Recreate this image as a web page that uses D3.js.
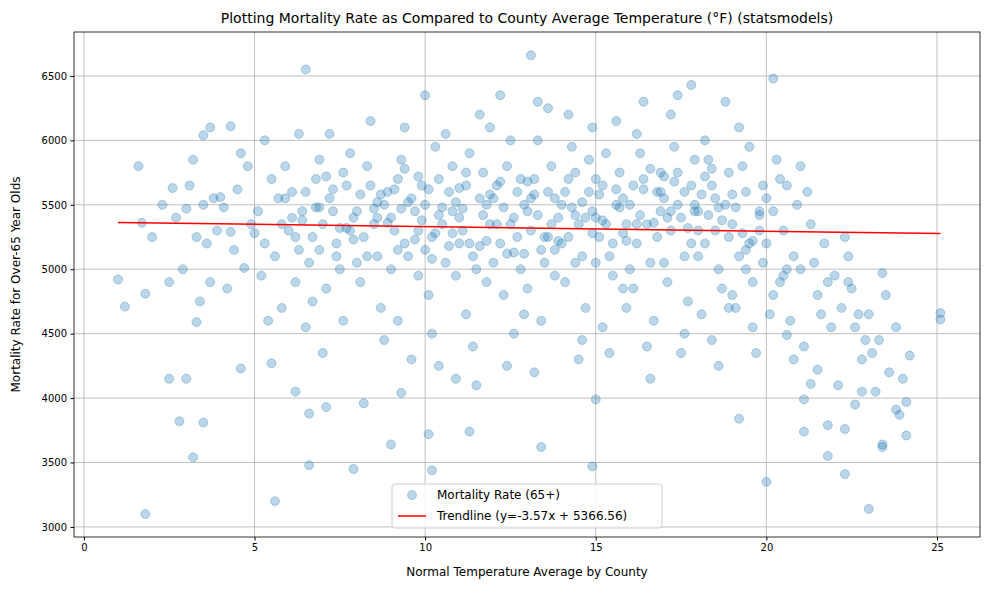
<!DOCTYPE html>
<html><head><meta charset="utf-8">
<script src="https://cdn.jsdelivr.net/npm/d3@7"></script>
<style>body{margin:0;background:#fff;font-family:"DejaVu Sans",sans-serif}</style>
</head><body><svg id="c" width="989" height="590"></svg>
<script>
const temps = [1.0,1.2,1.8,1.8,1.6,1.7,2.5,2.5,2.8,3.0,3.2,3.5,3.3,3.5,3.7,4.3,4.6,5.6,6.5,6.6,7.9,9.0,10.0,10.1,10.2,11.3,13.1,13.4,14.9,15.0,17.8,20.2,20.0,22.3,23.0,23.4,23.4,24.1,25.1,25.1,21.8,21.8,22.3,23.4,24.1,24.2,23.8,19.2,20.6,21.3,21.5,21.1,21.1,
2.0,2.3,2.7,2.9,3.1,3.3,3.5,3.7,3.9,3.2,3.8,3.4,2.6,3.6,3.0,
4.1,4.3,4.5,4.7,4.8,4.2,4.9,4.4,4.6,4.0,
5.1,5.3,5.5,5.2,5.8,5.6,5.9,5.4,5.7,5.0,5.3,5.8,5.5,
6.1,6.3,6.5,6.7,6.9,6.2,6.4,6.6,6.8,6.0,6.3,6.7,6.5,6.9,6.1,6.6,6.2,
7.0,7.2,7.4,7.6,7.8,7.1,7.3,7.5,7.7,7.9,7.2,7.6,7.0,7.8,7.4,7.1,
8.0,8.2,8.4,8.6,8.8,8.1,8.3,8.5,8.7,8.9,8.4,8.2,8.6,8.0,8.8,
9.0,9.2,9.4,9.6,9.8,9.1,9.3,9.5,9.7,9.9,9.2,9.6,9.4,9.0,9.8,9.5,9.3,
10.0,10.2,10.4,10.6,10.8,10.1,10.3,10.5,10.7,10.9,10.2,10.6,10.4,10.0,10.8,10.5,10.9,
11.0,11.2,11.4,11.6,11.8,11.1,11.3,11.5,11.7,11.9,11.2,11.6,11.4,11.8,11.0,11.5,11.9,
12.0,12.2,12.4,12.6,12.8,12.1,12.3,12.5,12.7,12.9,12.2,12.6,12.4,12.8,12.0,12.5,12.9,
13.0,13.2,13.4,13.6,13.8,13.1,13.3,13.5,13.7,13.9,13.2,13.6,13.4,13.8,13.0,13.5,13.3,
14.0,14.2,14.4,14.6,14.8,14.1,14.3,14.5,14.7,14.9,14.2,14.6,14.4,14.8,14.0,14.5,14.9,
15.0,15.2,15.4,15.6,15.8,15.1,15.3,15.5,15.7,15.9,15.2,15.6,15.4,15.8,15.0,15.5,15.9,
16.0,16.2,16.4,16.6,16.8,16.1,16.3,16.5,16.7,16.9,16.2,16.6,16.4,16.8,16.0,16.5,16.9,
17.0,17.2,17.4,17.6,17.8,17.1,17.3,17.5,17.7,17.9,17.2,17.6,17.4,17.8,17.0,17.5,17.9,
18.0,18.2,18.4,18.6,18.8,18.1,18.3,18.5,18.7,18.9,18.2,18.6,18.4,18.8,18.0,18.5,18.9,
19.0,19.2,19.4,19.6,19.8,19.1,19.3,19.5,19.7,19.9,19.2,19.6,19.4,19.8,19.0,19.5,19.9,
20.0,20.2,20.4,20.6,20.8,20.1,20.3,20.5,20.7,20.9,20.2,20.6,20.4,20.8,20.0,20.5,
21.0,21.3,21.5,21.7,21.9,21.2,21.6,21.4,21.8,21.1,21.0,
22.0,22.2,22.4,22.6,22.8,22.3,22.5,22.7,22.9,22.1,22.6,22.8,22.4,
23.0,23.3,23.6,23.1,23.5,23.8,24.0,23.2,23.9];
const rates = [4920,4710,3100,4810,5800,5360,4150,4900,3820,4150,3540,3810,4590,6040,6100,6110,4230,3200,6550,3480,3450,3640,6350,3720,3440,3740,6660,3620,3470,3990,6430,6480,3350,3410,3140,3620,3640,3710,4610,4660,3550,3790,3760,4970,3970,4330,3910,3840,4490,4110,4220,3740,3990,
5250,5500,5400,5000,5650,5250,5500,4900,5300,5850,5550,4750,5630,5200,5470,
5480,5290,5620,5010,5800,4850,5350,5150,5900,5560,
5450,5200,5700,4950,5350,5100,5800,4600,5550,5280,6000,4700,4270,
5400,5150,5600,5250,5850,4900,5450,5050,5700,5300,6050,4750,4550,5480,5600,3880,4050,
5350,5550,5100,5750,5300,4850,5450,5000,5650,5400,6050,4600,4350,5900,5200,3930,
5450,5250,5650,5100,5500,4900,5800,5350,4700,5600,6150,3960,5400,5050,4450,
5400,5700,5200,5550,4950,5300,5850,5100,5450,5650,4600,4300,6100,5000,5300,5520,4040,
5500,5250,5700,5050,5450,4800,5950,5350,5600,4950,4500,6050,4250,5150,5800,5480,4150,
5400,5650,5100,5550,4900,5300,5900,5000,5750,5350,4650,6200,4400,5500,5200,4100,6100,
5550,5200,5800,5400,5000,5650,4800,6000,5250,5500,6350,4500,4250,5700,5050,5350,4650,
5450,5700,5150,5600,4950,5300,6000,5050,5800,5400,4200,6250,4600,5550,4850,5250,6300,
5500,5250,5750,5100,5600,4900,5950,5350,4700,5450,6200,4450,5050,5850,5200,4300,6100,
5400,5650,5100,5500,4850,5250,5900,4950,5750,5350,4550,6150,4350,5550,5050,5200,4700,
5500,5200,5700,5050,5600,4850,5900,5350,4600,5450,6050,4150,6300,5250,5000,4400,5750,
5550,5300,5750,5100,5650,4900,5950,5400,4750,5500,6200,4500,6350,5200,5050,4350,5850,
5450,5200,5650,5000,5500,4650,5850,5300,4850,5750,6000,4250,4450,6300,5100,5550,4700,
5350,5100,5600,4900,5450,4700,5800,5200,4350,5650,6100,4550,5000,5300,4800,5950,5050,
5200,5450,4900,5650,5100,4650,5850,5300,4600,5500,4800,5000,5700,4300,5550,4950,
5000,5350,4800,5200,4550,5600,4650,5050,4900,4400,5800,
4950,4700,5100,4550,4300,5250,4850,4650,4450,4100,3950,4050,4900,
4650,4450,4200,4350,4800,4550,4150,4050,3870];
// denser core of the cloud
const coreTemps = [5.9,6.4,6.8,7.3,7.7,8.1,8.5,8.9,9.1,9.3,9.7,9.9,10.1,10.3,10.7,10.9,11.1,11.3,11.7,11.9,12.1,12.3,12.7,12.9,13.1,13.3,13.7,13.9,14.1,14.3,14.7,14.9,15.1,15.3,15.7,15.9,16.1,16.3,16.7,16.9,17.1,17.3,17.7,17.9,18.1,18.3,18.7,18.9,19.1,19.3,
6.2,6.9,7.5,8.3,8.7,9.2,9.8,10.4,10.8,11.2,11.6,12.2,12.6,13.2,13.6,14.2,14.6,15.2,15.6,16.2,16.6,17.2,17.6,18.2,18.6,19.4,19.8,
7.1,7.9,8.6,9.4,10.2,11.0,11.8,12.4,13.0,13.8,14.4,15.0,15.8,16.4,17.0,17.4,18.0,18.4,19.0,19.6];
const coreRates = [5550,5380,5480,5620,5320,5580,5470,5360,5620,5470,5230,5380,5620,5280,5180,5520,5470,5200,5420,5580,5350,5480,5600,5120,5550,5420,5350,5220,5600,5480,5400,5280,5580,5350,5480,5220,5650,5420,5360,5600,5400,5680,5320,5450,5580,5420,5380,5250,5480,5280,
5250,5150,5320,5100,5580,5150,5720,5420,5280,5750,5180,5680,5130,5580,5250,5700,5520,5380,5620,5350,5780,5450,5600,5720,5480,5150,5420,
5720,5230,5520,5780,5080,5630,5220,5120,5680,5150,5420,5700,5280,5620,5720,5500,5300,5780,5580,5220];
const slope = -3.57, intercept = 5366.56;
const xTicks = [0,5,10,15,20,25];
const yTicks = [3000,3500,4000,4500,5000,5500,6000,6500];

const svg = d3.select("#c");
const L=74,R=980,T=32,B=537;
const x = d3.scaleLinear().domain([-0.29,26.26]).range([L,R]);
const y = d3.scaleLinear().domain([2922,6841]).range([B,T]);
const g = svg.append("g");
g.selectAll(".gx").data(xTicks).enter().append("line").attr("x1",d=>x(d)).attr("x2",d=>x(d)).attr("y1",T).attr("y2",B).attr("stroke","#b0b0b0").attr("stroke-width",0.8);
g.selectAll(".gy").data(yTicks).enter().append("line").attr("y1",d=>y(d)).attr("y2",d=>y(d)).attr("x1",L).attr("x2",R).attr("stroke","#b0b0b0").attr("stroke-width",0.8);
const pts = temps.map((t,i)=>[t,rates[i]]).concat(coreTemps.map((t,i)=>[t,coreRates[i]]));
g.selectAll("circle").data(pts).enter().append("circle").attr("cx",d=>x(d[0])).attr("cy",d=>y(d[1])).attr("r",4.5).attr("fill","#1f77b4").attr("fill-opacity",0.3).attr("stroke","#1f77b4").attr("stroke-opacity",0.3);
g.append("line").attr("x1",x(1.0)).attr("x2",x(25.1)).attr("y1",y(slope*1.0+intercept)).attr("y2",y(slope*25.1+intercept)).attr("stroke","red").attr("stroke-width",1.5);
const ax = svg.append("g").attr("transform",`translate(0,${B})`).call(d3.axisBottom(x).tickValues(xTicks).tickSize(3.5).tickPadding(3.5));
const ay = svg.append("g").attr("transform",`translate(${L},0)`).call(d3.axisLeft(y).tickValues(yTicks).tickSize(3.5).tickPadding(3.5).tickFormat(d3.format("d")));
[ax,ay].forEach(a=>{a.select(".domain").remove();a.selectAll("text").attr("font-size",10).attr("font-family","DejaVu Sans").attr("fill","#000");});
svg.append("rect").attr("x",L).attr("y",T).attr("width",R-L).attr("height",B-T).attr("fill","none").attr("stroke","#000").attr("stroke-width",0.8);
svg.append("text").attr("x",(L+R)/2).attr("y",23).attr("text-anchor","middle").attr("font-size",14).text("Plotting Mortality Rate as Compared to County Average Temperature (°F) (statsmodels)");
svg.append("text").attr("x",(L+R)/2).attr("y",576).attr("text-anchor","middle").attr("font-size",12).text("Normal Temperature Average by County");
svg.append("text").attr("transform",`translate(20,${(T+B)/2}) rotate(-90)`).attr("text-anchor","middle").attr("font-size",12).text("Mortality Rate for Over-65 Year Olds");
const lg = svg.append("g");
lg.append("rect").attr("x",392).attr("y",484).attr("width",270).attr("height",44).attr("rx",3).attr("fill","#fff").attr("fill-opacity",0.8).attr("stroke","#ccc");
lg.append("circle").attr("cx",412).attr("cy",495).attr("r",4.5).attr("fill","#1f77b4").attr("fill-opacity",0.3).attr("stroke","#1f77b4").attr("stroke-opacity",0.3);
lg.append("text").attr("x",437).attr("y",499).attr("font-size",12).text("Mortality Rate (65+)");
lg.append("line").attr("x1",398).attr("x2",426).attr("y1",516).attr("y2",516).attr("stroke","red").attr("stroke-width",1.5);
lg.append("text").attr("x",437).attr("y",520).attr("font-size",12).text("Trendline (y=-3.57x + 5366.56)");
</script></body></html>
